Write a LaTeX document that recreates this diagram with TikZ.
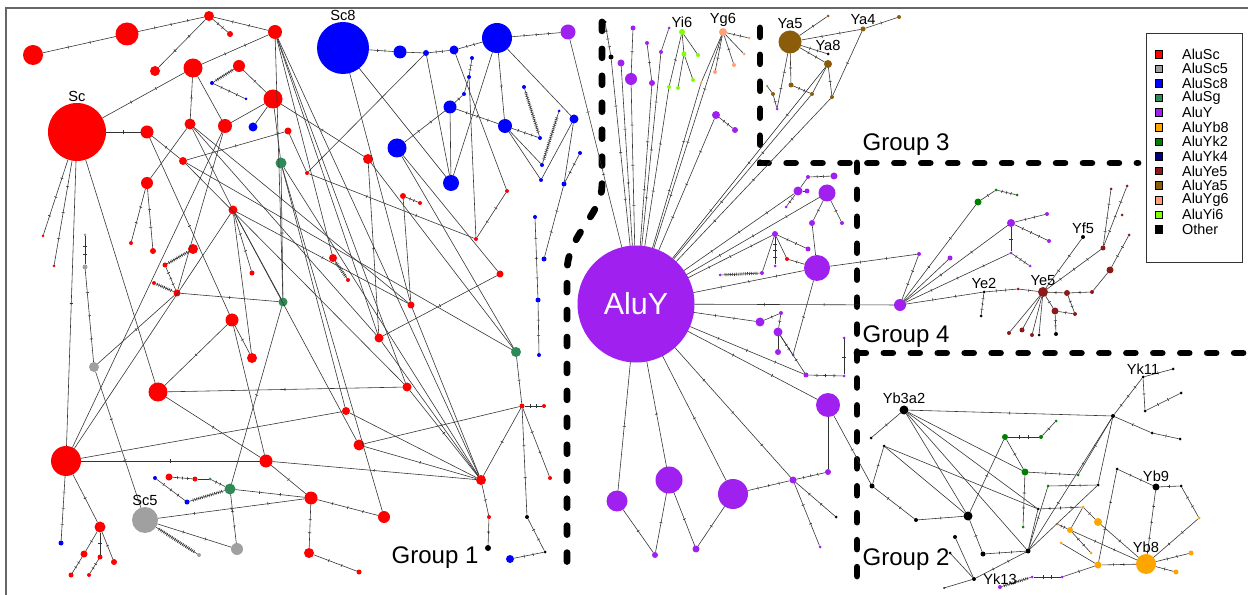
\documentclass[tikz,border=0pt]{standalone}
\usepackage{fontspec}
\setmainfont{Liberation Sans}
\usepackage{xcolor}
\usetikzlibrary{positioning, decorations.markings}
\definecolor{csc}{RGB}{255,0,0}
\definecolor{csc5}{RGB}{160,160,160}
\definecolor{csc8}{RGB}{0,0,255}
\definecolor{csg}{RGB}{46,139,87}
\definecolor{cy}{RGB}{160,32,240}
\definecolor{cyb}{RGB}{255,165,0}
\definecolor{cyk2}{RGB}{0,128,0}
\definecolor{cyk4}{RGB}{0,0,128}
\definecolor{cye}{RGB}{139,26,26}
\definecolor{cya}{RGB}{139,92,10}
\definecolor{cyg}{RGB}{255,160,122}
\definecolor{cyi}{RGB}{127,255,0}
\definecolor{coth}{RGB}{0,0,0}
\tikzset{
  hap/.style={circle, fill=#1, inner sep=0pt, outer sep=0pt},
  lnk/.style={draw=black!80, line width=0.5pt},
  mut1/.style={lnk, postaction={decorate, decoration={markings,
      mark=at position 0.5 with {\draw[lnk] (0,-1.3pt) -- (0,1.3pt);}}}},
  mut2/.style={lnk, postaction={decorate, decoration={markings,
      mark=at position 0.35 with {\draw[lnk] (0,-1.3pt) -- (0,1.3pt);},
      mark=at position 0.65 with {\draw[lnk] (0,-1.3pt) -- (0,1.3pt);}}}},
  mut3/.style={lnk, postaction={decorate, decoration={markings,
      mark=between positions 0.25 and 0.75 step 0.25 with {\draw[lnk] (0,-1.3pt) -- (0,1.3pt);}}}},
  hatch/.style={lnk, postaction={decorate, decoration={markings,
      mark=between positions 0.08 and 0.92 step 1.6pt with {\draw[lnk] (0,-1.3pt) -- (0,1.3pt);}}}},
  grp/.style={line width=5.8pt, dash pattern=on 7.5pt off 15.5pt, line cap=round},
  lbl/.style={inner sep=1pt, font=\fontsize{12.5}{13}\selectfont},
  grpl/.style={font=\fontsize{20.5}{22}\selectfont},
  legsq/.style={draw=black, line width=0.6pt, minimum size=2.3mm, inner sep=0pt},
  legtx/.style={inner sep=0pt, font=\fontsize{12.3}{13}\selectfont}
}

\begin{document}
\begin{tikzpicture}[x=0.03cm, y=-0.03cm]
  \useasboundingbox (0,0) rectangle (1248,595);
  % Frame
  \draw[black!60, line width=1.2pt] (6,8) rectangle (1262,612);

  % Group boundaries
  \draw[grp] (602,22) -- (602,185) .. controls (602,215) and (567,235) .. (567,272) -- (567,578);
  \draw[grp] (760,28) -- (760,163) -- (1138,163);
  \draw[grp] (857,163) -- (857,578);
  \draw[grp] (857,353) -- (1245,353);

  % Group 1 haplotypes
  \foreach \nm/\x/\y/\col/\dia in {
    a1/33/55/csc/20, a2/127/34/csc/23, a3/209/16/csc/10, a4/230/34/csc/6,
    a5/275/32/csc/14, a6/155/71/csc/10, a7/193/68/csc/19, a8/239/66/csc/12,
    b1/212/83/csc8/4, b2/246/99/csc8/3, a9/273/99/csc/19, Sc/77/132/csc/58,
    a10/147/132/csc/13, a11/190/124/csc/11, a12/225/126/csc/14, b3/253/127/csc8/9,
    a13/288/131/csc/7, a14/183/161/csc/8, g1/281/163/csg/11, a15/147/183/csc/12,
    a16/233/210/csc/9, a17/307/173/csc/4, a18/368/159/csc/10, a19/403/196/csc/6,
    a20/420/203/csc/4, r1/43/236/csc/3, r2/54/266/csc/3, s1/85/235/csc5/3,
    s2/85/267/csc5/5, a21/131/243/csc/4, a22/153/251/csc/6, a23/193/249/csc/10,
    a24/165/265/csc/5, a25/154/283/csc/4, a26/177/293/csc/7, a27/252/273/csc/5,
    a28/333/258/csc/8, a29/348/280/csc/4, g2/283/302/csg/9, a30/411/305/csc/7,
    a31/232/320/csc/13, a32/379/338/csc/9, a33/252/358/csc/10, s3/94/367/csc5/10,
    a34/158/392/csc/19, g3/516/352/csg/10, a35/407/387/csc/9, a36/346/411/csc/8,
    a37/359/445/csc/11, a38/522/406/csc/5, a39/544/406/csc/4, a40/66/461/csc/30,
    a41/266/461/csc/13, a42/481/480/csc/10, a43/550/478/csc/4, a44/311/498/csc/13,
    a45/384/517/csc/12, a46/489/517/csc/4, k1/488/548/coth/6, k2/527/517/coth/4,
    k3/545/552/coth/3, b4/510/559/csc8/8, a47/309/553/csc/10, a48/359/572/csc/5,
    b5/155/478/csc8/4, a49/169/477/csc/7, a50/195/479/csc/5, g4/210/479/csg/3,
    g5/230/489/csg/11, b6/187/502/csc8/5, Sc5/145/520/csc5/26, s4/237/549/csc5/12,
    s5/199/555/csc5/4, a51/100/527/csc/11, b7/61/543/csc8/5, a52/84/554/csc/7,
    a53/100/557/csc/5, a54/114/562/csc/6, a55/71/575/csc/5, a56/89/575/csc/4,
    Sc8/343/48/csc8/52, c1/400/52/csc8/13, c2/426/53/csc8/6, c3/454/50/csc8/9,
    c4/497/38/csc8/30, p0/568/32/cy/15, c5/472/58/csc8/4, c6/469/77/csc8/4,
    c7/464/94/csc8/4, c8/450/107/csc8/13, c9/397/148/csc8/19, c10/451/183/csc8/16,
    c11/505/126/csc8/14, c12/524/87/csc8/4, c13/540/138/csc8/4, c14/542/165/csc8/4,
    c23/559/111/csc8/3, c15/541/180/csc8/4, c16/574/119/csc8/9, c17/580/153/csc8/4,
    c18/564/184/csc8/5, a57/507/191/csc/4, a58/476/239/csc/4, a59/500/274/csc/7,
    c19/535/217/csc8/4, c20/544/259/csc8/5, c21/538/300/csc8/5, c22/539/355/csc8/4}
    \node[hap=\col, minimum size=\dia*0.3mm] (\nm) at (\x,\y) {};

  % AluY and Group 3
  \node[hap=cy, minimum size=35.1mm, text=white, font=\fontsize{26}{26}\selectfont] (AluY) at (636,304) {AluY};
  \foreach \nm/\x/\y/\col/\dia in {
    d1/605/22/coth/3, d2/611/57/coth/5, d3/633/28/cy/5, d4/621/63/cy/7,
    d5/631/79/cy/12, d6/647/43/cy/4, d7/661/52/cy/4, d8/669/28/cy/3,
    d9/652/83/cy/6, Yi6/682/32/cyi/6, e1/698/55/cyi/4, e2/684/54/cyi/5,
    e3/693/80/cyi/4, e4/678/88/cyi/4, e5/669/87/cyi/4, Yg6/723/32/cyg/8,
    f1/749/38/cyg/3, f2/744/54/cyg/3, f3/734/65/cyg/4, f4/715/72/cyg/4,
    f5/701/83/cyg/3, d10/716/115/cy/8, d11/735/130/cy/6, Ya5/790/42/cya/23,
    h1/828/16/cya/3, Ya4/863/29/cya/5, h2/899/17/cya/4, Ya8/828/54/coth/3,
    h3/828/64/cya/8, h4/791/85/cya/5, h5/812/94/cya/4, h6/832/97/cya/4,
    h7/773/94/cya/4, h8/767/86/cya/2, d12/777/109/cy/3,
    i1/834/176/cy/7, i2/808/177/cy/4, i3/827/193/cy/17, i4/798/191/cy/9,
    i5/807/191/cy/5, i6/786/207/cy/3, i7/812/223/cy/6, i8/842/223/cy/4,
    i9/775/234/cy/6, i10/808/249/cy/5, i11/787/259/csc/4, i12/775/266/cy/3,
    i13/762/273/cy/4, i14/720/275/cy/3, i15/817/268/cy/26,
    m1/760/322/cy/9, m2/781/313/cy/4, m3/778/332/cy/9, m4/778/352/cy/6,
    m5/793/355/cy/3, m6/806/375/cy/5, m7/844/338/cy/3, m8/844/376/cy/3,
    m9/828/405/cy/24, m10/828/472/cy/6, m11/793/480/cy/7, m12/836/517/coth/3,
    m13/820/547/cy/3, m14/617/501/cy/21, m15/669/480/cy/27, m16/733/494/cy/30,
    m17/655/555/cy/6, m18/696/549/cy/7}
    \node[hap=\col, minimum size=\dia*0.3mm] (\nm) at (\x,\y) {};

  % Group 4 and Group 2
  \foreach \nm/\x/\y/\col/\dia in {
    j1/900/305/cy/12, j2/919/254/cy/4, j3/950/258/cy/5, j4/978/202/cyk2/7,
    j5/996/190/cyk2/3, j6/1017/195/cyk2/3, j7/1011/223/cy/8, j8/1047/214/cy/4,
    j9/1049/241/cy/4, j10/1011/253/cy/3, j11/1030/266/cy/3, Ye2/984/292/coth/3,
    j12/981/316/coth/3, j13/1018/289/cye/3, Ye5/1043/292/cye/10, Yf5/1083/237/coth/4,
    j14/1067/293/cye/6, j15/1092/292/cye/4, j16/1110/270/cye/7, j17/1129/235/cye/3,
    j18/1103/248/cye/5, j19/1111/189/cye/3, j20/1127/186/cye/3, j21/1122/215/cye/3,
    j22/1055/311/cye/7, j23/1075/314/cye/4, j24/1009/333/cye/4, j25/1022/330/cye/5,
    j26/1032/335/cye/4, j27/1039/335/coth/3, j28/1056/334/coth/4,
    Yb3a2/904/410/coth/9, l1/871/438/coth/3, l2/884/446/coth/3, l3/872/486/coth/5,
    l4/916/520/coth/4, l5/968/516/coth/9, l6/983/554/coth/5, l7/1028/551/coth/5,
    l8/955/537/coth/4, l9/950/553/coth/3, Yk13/974/579/coth/4, l10/944/588/coth/2,
    q1/1000/587/cy/4, q2/1032/577/cy/3, q3/1062/577/cy/3, l11/1113/416/coth/4,
    Yk11/1143/377/coth/3, l12/1173/369/coth/3, l13/1181/393/coth/3, l14/1145/411/coth/3,
    l15/1152/433/coth/3, l16/1180/439/coth/3, u1/1005/437/cyk2/6, u2/1041/437/cyk2/4,
    u3/1056/421/cyk2/3, u4/1025/472/cyk2/7, u5/1078/475/cyk2/3, u6/1048/486/cyk2/3,
    l17/1098/485/coth/3, l18/1038/509/coth/3, u7/1023/527/cyk2/3, o1/1083/507/cyb/3,
    o2/1098/522/cyb/8, o3/1057/524/cyb/3, o4/1070/530/cyb/6, o5/1061/543/cyb/3,
    o6/1091/553/cyb/3, o7/1098/565/cyb/7, Yb8/1146/564/cyb/20, o8/1191/553/cyb/5,
    o9/1176/572/cyb/5, Yb9/1156/487/coth/7, l19/1181/486/coth/3, o10/1199/518/cyb/3,
    l20/1117/469/coth/3}
    \node[hap=\col, minimum size=\dia*0.3mm] (\nm) at (\x,\y) {};

  % Links
  \foreach \ea/\eb in {a7/a12, a9/a12, a9/b3, a11/a15, a11/a30, a11/a32, a14/a35,
    a14/g3, a12/a40, a13/a17, a16/a33, a16/a37, a5/g2, a5/a28, a5/a32, a5/a35,
    a5/a42, g1/a42, g1/a36, g1/a45, a18/g3, a19/a30, a30/a42, g2/a16, a31/a41,
    Sc/a34, a40/a36, a40/a16, a50/g4, a36/a42, a32/a42, g3/c9, c9/a59, Sc8/a30,
    a26/a12, c1/c2, c2/a17, c2/c10, c8/c10, c4/c10, c4/c16, c16/c15, c16/c18,
    c11/c15, c11/c14, c3/a57, c6/a58, Sc8/c10, c6/c7,
    d8/d7, Yi6/e1, Yi6/e2, e2/e3, e2/e4, Yg6/f2, Yg6/f5, h3/h5, h8/h7,
    i2/i4, i4/i5, i7/i15, i9/i11, i9/i13, m3/m4, m9/m10,
    j1/j3, Ye5/j24, Ye5/j25, Ye5/j26, Ye5/j27, j15/j16,
    Yb3a2/l5, Yb3a2/l7, Yb3a2/u4, Yb3a2/l18, l2/l5, l2/l18, l18/l7, Yk13/l8,
    Yk13/l9, Yk13/l10, o1/o4, o5/o7, l17/l11, l17/l7}
    \draw[lnk] (\ea) -- (\eb);
  \foreach \ea/\eb in {a7/a11, a8/a9, a9/g1, a9/a18, Sc/a10, a10/a14, a10/a31,
    a11/a16, a14/a13, a16/a30, g1/g2, a18/a32, g2/a26, a31/a33, a31/a34, s3/a26,
    Sc/a40, a34/a41, a34/a35, a40/a41, a40/a51, a41/a44, a41/a42, g5/g2, a51/a52,
    a51/a53, a51/a54, a37/a42, a35/a42, a42/a38, a38/g3, a42/a46, a46/k1, a37/a38,
    a59/a32, c7/c8, c4/c11,
    d3/d5, d6/d9, Yi6/e5, Yg6/f3, Ya5/h1, Ya4/h2, Ya5/h4, h3/h6, Ya4/h6, h7/d12,
    i3/i7, i3/i8, i11/i15, m5/i15, m3/m5, m1/m2, m2/m3, m8/m7, AluY/m14, AluY/m15,
    AluY/m16, m14/m17, m15/m17, m15/m18, m16/m18, m9/l3,
    j4/j5, j7/j10, j13/Ye5, Ye5/j14, j14/j15, Ye5/j22, j22/j23,
    Yb3a2/l1, Yb3a2/l11, l2/l3, l4/l5, l5/l6, l5/u1, Yk11/l12, Yk11/l14, l11/l15,
    l15/l16, l11/u5, u1/u4, u2/u3, u6/l7, o1/o2, o2/Yb8, Yb9/l19, Yb8/o9, q3/o7}
    \draw[mut1] (\ea) -- (\eb);
  \foreach \ea/\eb in {a1/a2, a3/a4, a3/a6, a3/a5, a5/a7, Sc/a7, a15/a21, a15/a22,
    a16/a27, a17/a58, a19/a20, s2/s1, s3/Sc5, g4/g5, g5/s4, g5/a44, Sc5/s4,
    a52/a55, a53/a56, a44/a47, a47/a48, a38/a39, a38/a43, a38/k2, k2/k3, k3/b4,
    Sc8/c1, c2/c3, c3/c4, c5/c6, c8/c9, a57/a58, c17/c18, c18/c20, c21/c22,
    d4/AluY, d9/AluY, e5/AluY, Yg6/f1, Yg6/f4, f5/AluY, d10/d11, Ya5/Ya4, Ya5/Ya8,
    Ya5/h3, Ya5/d12, h4/h5, h5/AluY, p0/AluY,
    i2/i1, i4/i6, i9/i10, i15/j2, m3/m6, AluY/m1, AluY/m9, m11/m12, m11/m13, AluY/j1,
    j1/j2, j1/j4, j1/j7, j7/j8, Ye2/j13, Ye5/Yf5, j16/j17, j14/j23, j1/Ye2, j22/j28,
    l3/l4, l6/l7, l7/l11, l7/Yk13, l14/l13, u1/u2, u5/u4, u4/u7, u6/l17, o3/o4,
    o4/Yb8, o4/o6, l20/o7, l20/Yb9, l19/o10, o10/Yb8, Yb8/o7, Yb8/o8, q2/q3}
    \draw[mut2] (\ea) -- (\eb);
  \foreach \ea/\eb in {a2/a3, b1/b2, a24/a26, s3/s2, Sc/r1, Sc/r2, a40/b7, b6/b5,
    a49/a50, Sc5/a44, a44/a45, c4/p0, c8/c11, c11/c13, c19/c21,
    d1/d2, d2/AluY, d5/AluY, d7/AluY, Yg6/AluY, d10/AluY, h3/AluY, h6/AluY,
    i4/AluY, i3/AluY, i9/i12, i9/AluY, i15/AluY, AluY/m6, m6/m8, m10/m11, m16/m11,
    m11/AluY, j7/j9, j1/j10, j10/j11, Ye2/j12, Ye5/j18, j18/j19, j18/j20, j5/j6,
    l11/Yk11, l18/o1, Yb9/Yb8}
    \draw[mut3] (\ea) -- (\eb);
  \foreach \ea/\eb in {a8/b1, a28/a29, a23/a24, a25/a26, g5/b6, Sc5/s5, c12/c13,
    c14/c23, i13/i14, q1/q2}
    \draw[hatch] (\ea) -- (\eb);

  % Haplotype labels
  \node[lbl, above=0pt of Sc] (tSc) {Sc};
  \node[lbl, above=0pt of Sc8] (tSc8) {Sc8};
  \node[lbl, above=0pt of Sc5] (tSc5) {Sc5};
  \node[lbl, above=0pt of Yi6] (tYi6) {Yi6};
  \node[lbl, above=0pt of Yg6] (tYg6) {Yg6};
  \node[lbl, above=0pt of Ya5] (tYa5) {Ya5};
  \node[lbl, above=0pt of Ya4] (tYa4) {Ya4};
  \node[lbl, above=0pt of Ya8] (tYa8) {Ya8};
  \node[lbl, above=0pt of Ye2] (tYe2) {Ye2};
  \node[lbl, above=0pt of Ye5] (tYe5) {Ye5};
  \node[lbl, above=0pt of Yf5] (tYf5) {Yf5};
  \node[lbl, above=0pt of Yb3a2] (tYb3a2) {Yb3a2};
  \node[lbl, above=0pt of Yk11] (tYk11) {Yk11};
  \node[lbl, above=0pt of Yb9] (tYb9) {Yb9};
  \node[lbl, above=0pt of Yb8] (tYb8) {Yb8};
  \node[lbl, right=5pt of Yk13] (tYk13) {Yk13};

  % Group labels
  \node[grpl] (grp1) at (435,558) {Group 1};
  \node[grpl] (grp2) at (906,560) {Group 2};
  \node[grpl] (grp3) at (906,145) {Group 3};
  \node[grpl] (grp4) at (906,337) {Group 4};

  % Legend
  \draw[black!80, line width=0.8pt] (1146,33) rectangle (1242,262);
  \foreach \lab/\col [count=\i] in {AluSc/csc, AluSc5/csc5, AluSc8/csc8, AluSg/csg,
    AluY/cy, AluYb8/cyb, AluYk2/cyk2, AluYk4/cyk4, AluYe5/cye, AluYa5/cya,
    AluYg6/cyg, AluYi6/cyi, Other/coth} {
    \node[legsq, fill=\col] (key\i) at (1159,{39.5+14.6*\i}) {};
    \node[legtx, right=16pt of key\i] (keytx\i) {\lab};
  }
\end{tikzpicture}
\end{document}
